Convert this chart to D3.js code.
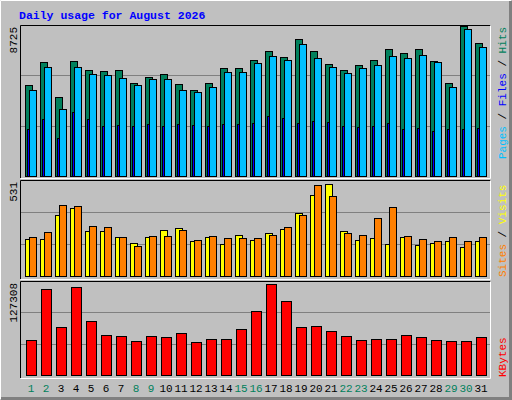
<!DOCTYPE html>
<html><head><meta charset="utf-8">
<script src="https://cdn.jsdelivr.net/npm/d3@7"></script>
<style>body{margin:0;background:#fff}svg{display:block}</style>
</head><body><svg id="chart" width="512" height="400"></svg>
<script>
var days = d3.range(1, 32);
var weekends = [1, 2, 8, 9, 15, 16, 22, 23, 29, 30];
var hits = [5276,6614,4578,6672,6148,6090,6148,5392,5776,5916,5334,4985,5392,6265,6265,6730,7254,6905,7952,7254,6497,6148,6439,6730,7370,7137,7370,6672,5392,8725,7719];
var files = [4985,6323,3880,6323,5916,5858,5683,5276,5625,5625,4985,4869,5160,6032,6032,6556,6963,6730,7661,6847,6323,5974,6265,6439,6963,6847,7021,6614,5160,8540,7486];
var pages = [2734,3316,2210,3723,3316,2908,2967,2908,3025,2908,3025,2967,2908,3025,3025,3083,3490,3374,3083,3199,3141,2908,2850,2908,3083,2734,2792,2618,2734,2734,2792];
var sites = [212,212,350,391,258,258,223,189,223,264,275,200,223,183,235,206,246,269,362,466,531,258,206,218,183,223,177,189,200,166,200];
var visits = [223,252,408,402,287,281,223,171,229,229,264,206,229,218,218,218,235,281,350,525,460,246,235,333,396,229,212,200,223,200,223];
var kbytes = [48965,119894,66732,122692,75546,55540,54141,47146,54141,52742,58338,45747,49944,49944,63934,89116,127308,103106,66732,68131,61136,54141,48545,49944,49944,55540,52742,48545,47146,47146,52742];

var C = { hits: "#00805C", files: "#00C0FF", pages: "#0000FF", sites: "#FFFF00", visits: "#FF8000", kb: "#FF0000" };
var svg = d3.select("#chart");
var font = "'Liberation Mono', 'DejaVu Sans Mono', monospace";

// background with 3D border
svg.append("rect").attr("width", 512).attr("height", 400).attr("fill", "#C0C0C0");
svg.append("path").attr("d", "M0.5,399V0.5H511").attr("stroke", "#fff").attr("fill", "none");
svg.append("path").attr("d", "M1,398.5H510.5V1").attr("stroke", "#808080").attr("stroke-width", 3).attr("fill", "none");

svg.append("text").attr("x", 19).attr("y", 19).text("Daily usage for August 2026")
    .attr("fill", "#0000FF").style("font", "bold 11.5px " + font);

var x = d3.scaleLinear().domain([1, 32]).range([25, 490]);

// panels: top, bottom of frame and baseline/top for the scale
var panels = [
    { y0: 25, y1: 178, base: 176, top: 26, max: 8725, label: "8725" },
    { y0: 180, y1: 279, base: 276, top: 184, max: 531, label: "531" },
    { y0: 281, y1: 378, base: 375, top: 284, max: 127308, label: "127308" }
];

panels.forEach(function (p) {
    p.y = d3.scaleLinear().domain([0, p.max]).range([p.base, p.top]);
    svg.append("path").attr("d", `M20.5,${p.y1}V${p.y0 + 0.5}H490.5`).attr("stroke", "#000").attr("fill", "none");
    svg.append("path").attr("d", `M20.5,${p.y1 + 0.5}H490.5V${p.y0 + 0.5}`).attr("stroke", "#fff").attr("fill", "none");
    var h = p.base - p.y0;
    [1, 2].forEach(function (k) {
        var gy = Math.round(p.base - h * k / 3) + 0.5;
        svg.append("line").attr("x1", 21).attr("x2", 490).attr("y1", gy).attr("y2", gy).attr("stroke", "#808080");
    });
    svg.append("text").text(p.label)
        .attr("transform", `translate(17,${p.y0 + 2}) rotate(-90)`)
        .attr("text-anchor", "end").attr("fill", "#000").style("font", "11px " + font);
});

function bars(data, panel, dx, w, color) {
    svg.append("g").selectAll("rect").data(data).join("rect")
        .attr("x", (d, i) => x(days[i]) + dx + 0.5)
        .attr("y", d => Math.round(panel.y(d)) + 0.5)
        .attr("width", w)
        .attr("height", d => panel.base - Math.round(panel.y(d)))
        .attr("fill", color).attr("stroke", "#000");
}

bars(hits, panels[0], 0, 7, C.hits);
bars(files, panels[0], 4, 7, C.files);
bars(pages, panels[0], 2, 2, C.pages);
bars(sites, panels[1], 0, 7, C.sites);
bars(visits, panels[1], 4, 7, C.visits);
bars(kbytes, panels[2], 1, 10, C.kb);

// day labels
svg.append("g").selectAll("text").data(days).join("text")
    .attr("x", d => x(d) + 6).attr("y", 392).attr("text-anchor", "middle")
    .attr("fill", d => weekends.includes(d) ? C.hits : "#000")
    .style("font", "11px " + font).text(d => d);

// right side legends
function legend(parts, y, anchor) {
    var t = svg.append("text").attr("transform", `translate(506,${y}) rotate(-90)`)
        .attr("text-anchor", anchor).style("font", "11px " + font);
    parts.forEach(function (p) { t.append("tspan").attr("fill", p[1]).text(p[0]); });
}
legend([["Pages", C.files], [" / ", "#000"], ["Files", C.pages], [" / ", "#000"], ["Hits", C.hits]], 27, "end");
legend([["Sites", C.visits], [" / ", "#000"], ["Visits", C.sites]], 277, "start");
legend([["KBytes", C.kb]], 377, "start");
</script></body></html>
